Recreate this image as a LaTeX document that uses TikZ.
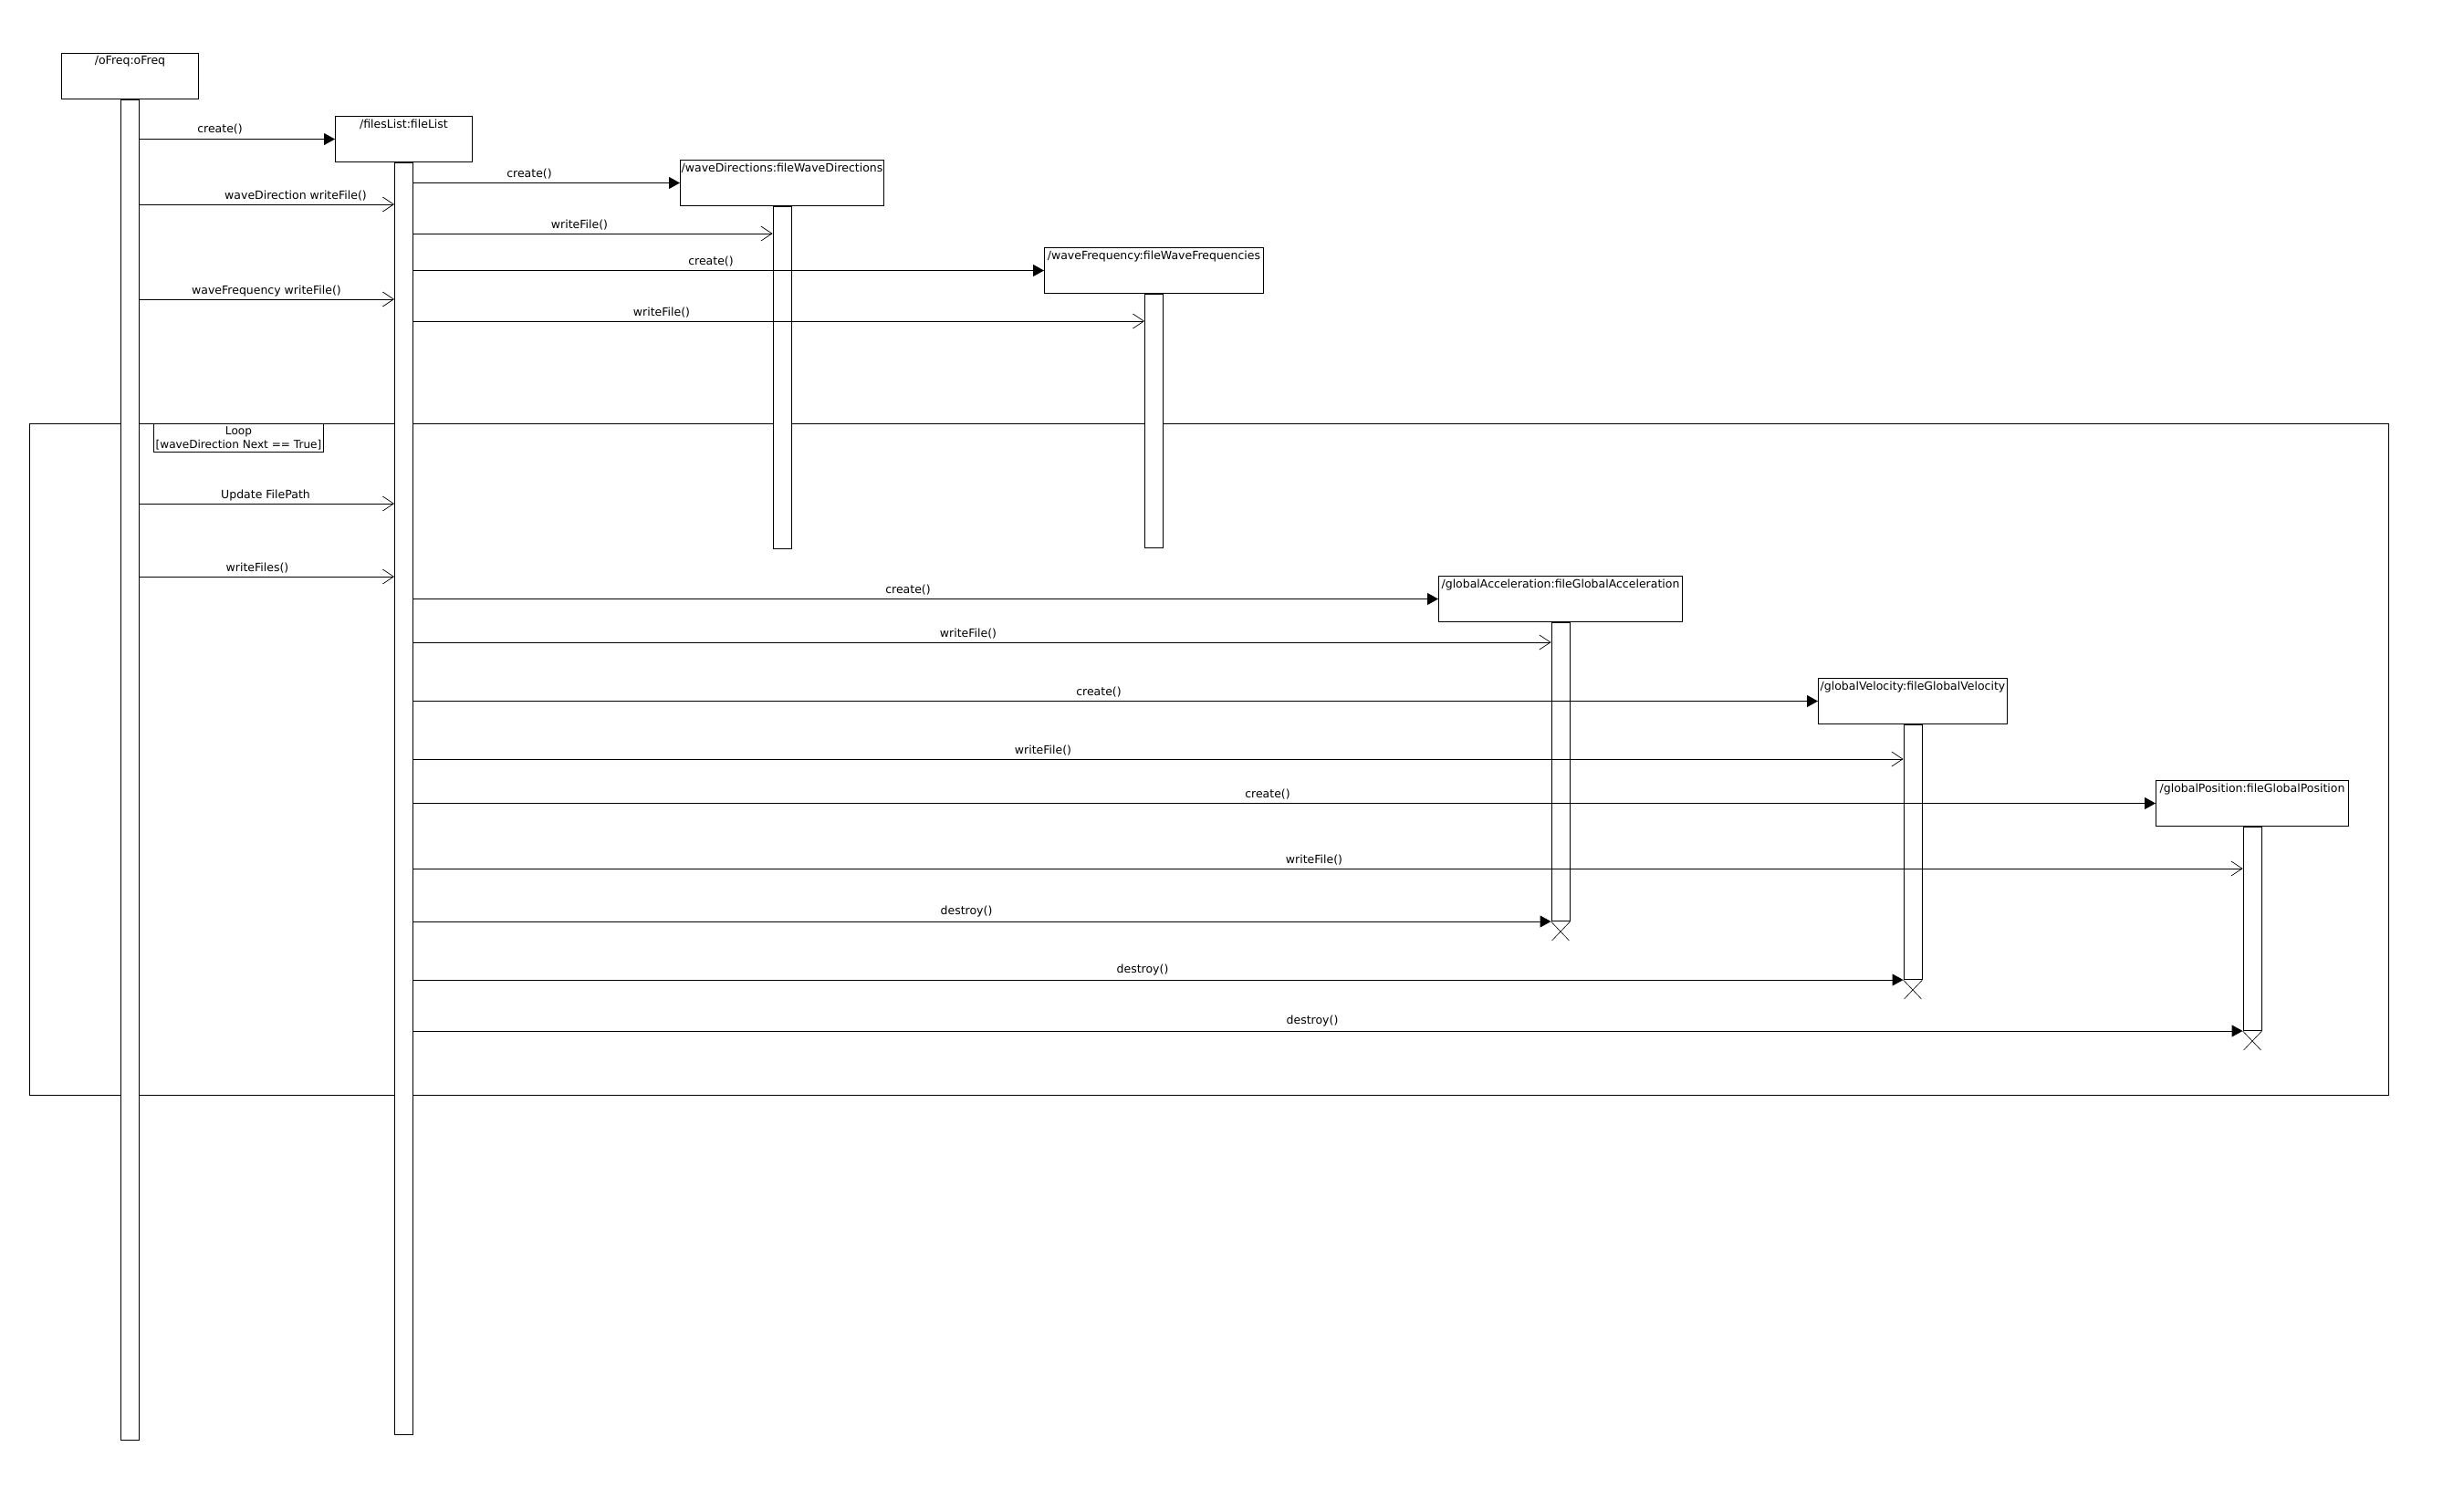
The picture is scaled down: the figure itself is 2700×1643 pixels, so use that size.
\documentclass[tikz,border=0pt]{standalone}
\usepackage{fontspec}
\setmainfont{DejaVu Sans}
\usetikzlibrary{arrows.meta}
\begin{document}
\begin{tikzpicture}[x=1pt,y=-1pt,
  font=\fontsize{12.5}{15}\selectfont,
  line width=1pt,
  objbox/.style={draw, fill=white, minimum height=50pt, inner sep=0pt, anchor=north west},
  objname/.style={anchor=base, inner sep=0pt},
  lifebar/.style={draw, fill=white, minimum width=20pt, inner sep=0pt, anchor=north},
  sync/.style={-{Triangle[length=12pt,width=13pt]}},
  async/.style={-{Straight Barb[length=12pt,width=16pt,line width=0.7pt]}},
  msg/.style={anchor=base, inner sep=0pt},
  killx/.style={line width=0.6pt}
]
\useasboundingbox (0,0) rectangle (2700,1643);

% combined fragment (loop)
\draw (32,464) rectangle (2617,1200);
\node[draw, inner xsep=0pt, inner ysep=1pt, anchor=north west, minimum width=186pt, minimum height=31pt, align=center,
  font=\fontsize{12.1}{15}\selectfont]
  (loopLbl) at (168,464) {Loop\\{}[waveDirection Next == True]};

% objects
\node[objbox, minimum width=150pt] (oFreq) at (67,58) {};
\node[objname] (oFreqName) at ([yshift=-13pt]oFreq.north) {/oFreq:oFreq};
\node[objbox, minimum width=150pt] (filesList) at (367,127) {};
\node[objname] (filesListName) at ([yshift=-13pt]filesList.north) {/filesList:fileList};
\node[objbox, minimum width=223pt] (waveDir) at (745,175) {};
\node[objname] (waveDirName) at ([yshift=-13pt]waveDir.north) {/waveDirections:fileWaveDirections};
\node[objbox, minimum width=240pt] (waveFreq) at (1144,271) {};
\node[objname] (waveFreqName) at ([yshift=-13pt]waveFreq.north) {/waveFrequency:fileWaveFrequencies};
\node[objbox, minimum width=267pt] (gAcc) at (1576,631) {};
\node[objname] (gAccName) at ([yshift=-13pt]gAcc.north) {/globalAcceleration:fileGlobalAcceleration};
\node[objbox, minimum width=207pt] (gVel) at (1992,743) {};
\node[objname] (gVelName) at ([yshift=-13pt]gVel.north) {/globalVelocity:fileGlobalVelocity};
\node[objbox, minimum width=211pt] (gPos) at (2362,855) {};
\node[objname] (gPosName) at ([yshift=-13pt]gPos.north) {/globalPosition:fileGlobalPosition};

% lifelines (activation bars)
\node[lifebar, minimum height=1469pt] (oFreqL) at (oFreq.south) {};
\node[lifebar, minimum height=1394pt] (filesL) at (filesList.south) {};
\node[lifebar, minimum height=375pt] (waveDirL) at (waveDir.south) {};
\node[lifebar, minimum height=278pt] (waveFreqL) at (waveFreq.south) {};
\node[lifebar, minimum height=327pt] (gAccL) at (gAcc.south) {};
\node[lifebar, minimum height=279pt] (gVelL) at (gVel.south) {};
\node[lifebar, minimum height=223pt] (gPosL) at (gPos.south) {};

% messages
\draw[sync] (oFreqL.east |- filesList.west) -- (filesList.west);
\node[msg] (l1) at (241,146) {create()};
\draw[async] (oFreqL.east |- 0,224) -- (filesL.west |- 0,224);
\node[msg] (l2) at (324,218) {waveDirection writeFile()};
\draw[sync] (filesL.east |- waveDir.west) -- (waveDir.west);
\node[msg] (l3) at (580,194) {create()};
\draw[async] (filesL.east |- 0,256) -- (waveDirL.west |- 0,256);
\node[msg] (l4) at (635,250) {writeFile()};
\draw[sync] (filesL.east |- waveFreq.west) -- (waveFreq.west);
\node[msg] (l5) at (779,290) {create()};
\draw[async] (oFreqL.east |- 0,328) -- (filesL.west |- 0,328);
\node[msg] (l6) at (292,322) {waveFrequency writeFile()};
\draw[async] (filesL.east |- 0,352) -- (waveFreqL.west |- 0,352);
\node[msg] (l7) at (725,346) {writeFile()};

\draw[async] (oFreqL.east |- 0,552) -- (filesL.west |- 0,552);
\node[msg] (l8) at (291,546) {Update FilePath};
\draw[async] (oFreqL.east |- 0,632) -- (filesL.west |- 0,632);
\node[msg] (l9) at (282,626) {writeFiles()};

\draw[sync] (filesL.east |- gAcc.west) -- (gAcc.west);
\node[msg] (l10) at (995,650) {create()};
\draw[async] (filesL.east |- 0,704) -- (gAccL.west |- 0,704);
\node[msg] (l11) at (1061,698) {writeFile()};
\draw[sync] (filesL.east |- gVel.west) -- (gVel.west);
\node[msg] (l12) at (1204,762) {create()};
\draw[async] (filesL.east |- 0,832) -- (gVelL.west |- 0,832);
\node[msg] (l13) at (1143,826) {writeFile()};
\draw[sync] (filesL.east |- gPos.west) -- (gPos.west);
\node[msg] (l14) at (1389,874) {create()};
\draw[async] (filesL.east |- 0,952) -- (gPosL.west |- 0,952);
\node[msg] (l15) at (1440,946) {writeFile()};

\draw[sync] (filesL.east |- gAccL.south west) -- (gAccL.south west);
\node[msg] (l16) at (1059,1002) {destroy()};
\draw[sync] (filesL.east |- gVelL.south west) -- (gVelL.south west);
\node[msg] (l17) at (1252,1066) {destroy()};
\draw[sync] (filesL.east |- gPosL.south west) -- (gPosL.south west);
\node[msg] (l18) at (1438,1122) {destroy()};

% destruction marks
\draw[killx] (gAccL.south west) -- ++(20,21) (gAccL.south east) -- ++(-20,21);
\draw[killx] (gVelL.south west) -- ++(20,21) (gVelL.south east) -- ++(-20,21);
\draw[killx] (gPosL.south west) -- ++(20,21) (gPosL.south east) -- ++(-20,21);
\end{tikzpicture}
\end{document}
